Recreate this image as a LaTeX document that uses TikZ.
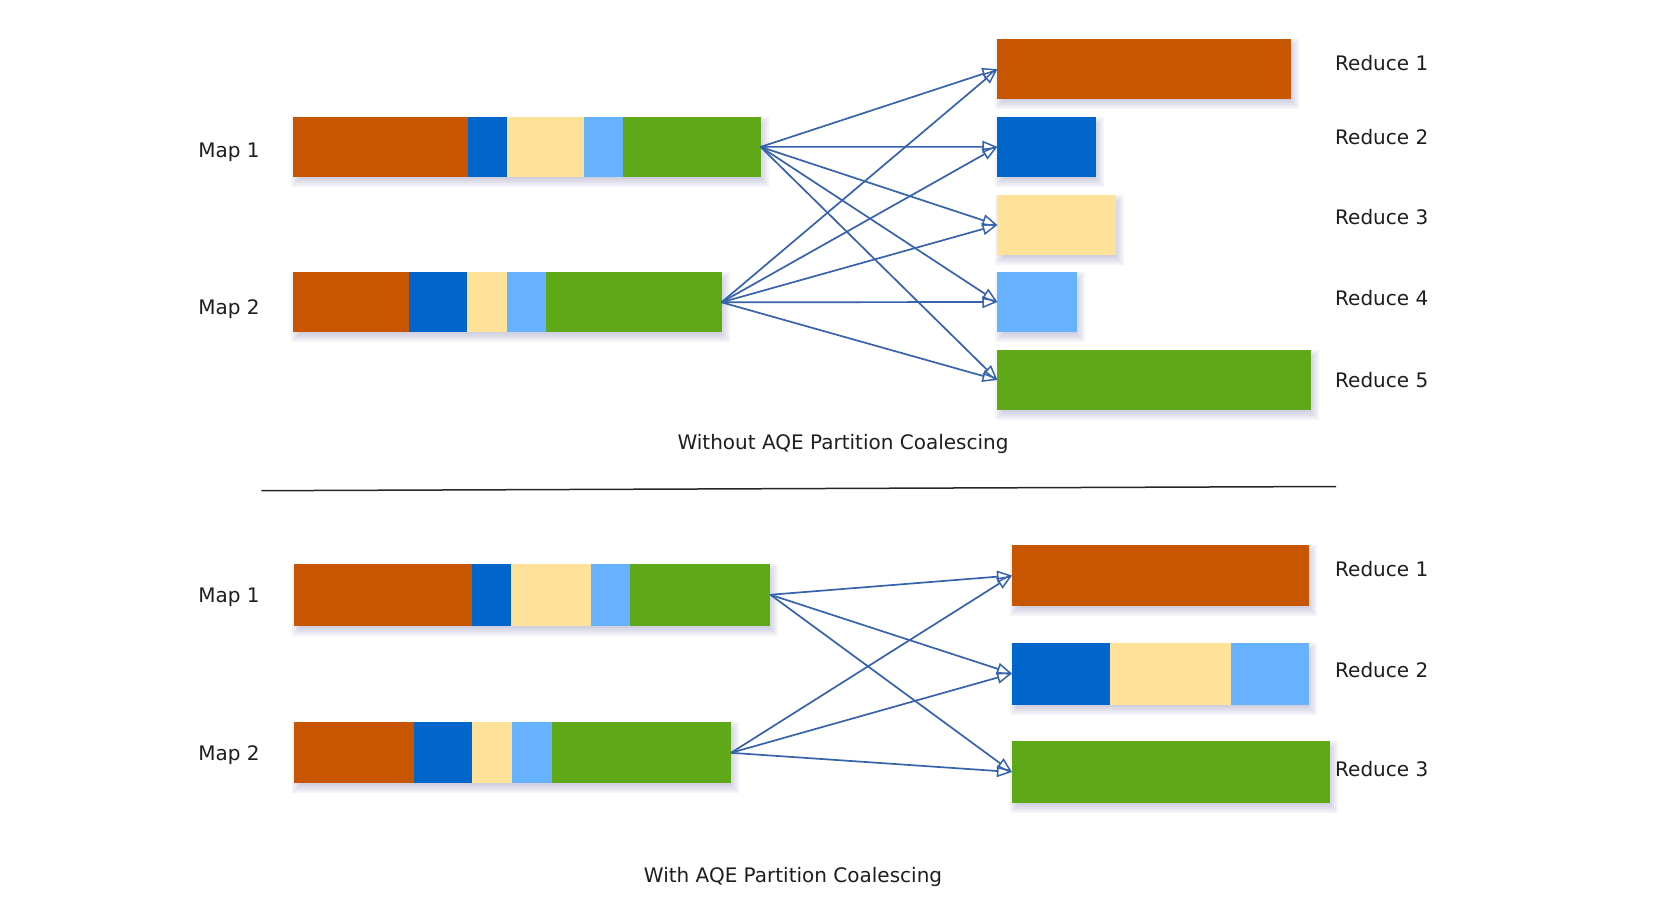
\documentclass[tikz,border=0pt]{standalone}
\usepackage{fontspec}
\setmainfont{DejaVu Sans}
\usetikzlibrary{arrows.meta,calc}
\definecolor{cOr}{RGB}{200,86,0}
\definecolor{cBl}{RGB}{0,102,204}
\definecolor{cYe}{RGB}{255,226,153}
\definecolor{cLb}{RGB}{102,178,255}
\definecolor{cGr}{RGB}{95,168,23}
\definecolor{cArr}{RGB}{55,98,172}
\definecolor{cTxt}{RGB}{30,30,30}
\definecolor{cSh}{RGB}{110,110,165}
\pgfdeclarelayer{bgl}
\pgfsetlayers{bgl,main}
\tikzset{
  blk/.style={rectangle, inner sep=0pt, outer sep=0pt, anchor=north west},
  lbl/.style={text=cTxt, font=\fontsize{20}{24}\selectfont, inner sep=0pt},
  dlbl/.style={lbl, yshift=-2.5pt},
  arr/.style={draw=cArr, line width=1.7pt, -{Triangle[open, length=15pt, width=12pt, line width=1.5pt]}},
  shd/.style={fill=cSh, opacity=0.07, draw=none},
}
\newcommand{\seg}[5]{\fill[#1] (#2,#3) rectangle (#4,#5);}
\newcommand{\shad}[1]{\begin{pgfonlayer}{bgl}\foreach \k in {0,...,5}{\fill[shd] ($(#1.north west)+(3-5+2*\k,5-5+2*\k)$) rectangle ($(#1.south east)+(3+5-2*\k,5+5-2*\k)$);}\end{pgfonlayer}}
\begin{document}
\begin{tikzpicture}[x=1pt,y=-1pt]
\begin{pgfonlayer}{bgl}
\fill[white] (0,0) rectangle (1680,923);
\end{pgfonlayer}
\useasboundingbox (0,0) rectangle (1680,923);

% ---------- top section ----------
\node[dlbl] (tm1l) at (229,150) {Map 1};
\node[dlbl] (tm2l) at (229,306.5) {Map 2};

\node[blk, fill=cOr, minimum width=467.6pt, minimum height=59.8pt] (tm1) at (293,117) {};
\shad{tm1}
\seg{cBl}{467.5}{117}{506.5}{176.8}
\seg{cYe}{506.5}{117}{584.3}{176.8}
\seg{cLb}{584.3}{117}{623}{176.8}
\seg{cGr}{623}{117}{760.6}{176.8}

\node[blk, fill=cOr, minimum width=428.5pt, minimum height=60pt] (tm2) at (293,272.3) {};
\shad{tm2}
\seg{cBl}{409}{272.3}{467}{332.3}
\seg{cYe}{467}{272.3}{506.6}{332.3}
\seg{cLb}{506.6}{272.3}{545.5}{332.3}
\seg{cGr}{545.5}{272.3}{721.5}{332.3}

\node[blk, fill=cOr, minimum width=293.4pt, minimum height=59.7pt] (tr1) at (997.4,39.3) {};
\node[blk, fill=cBl, minimum width=99pt, minimum height=59.7pt] (tr2) at (997.4,117) {};
\node[blk, fill=cYe, minimum width=118.4pt, minimum height=60pt] (tr3) at (997.4,195) {};
\node[blk, fill=cLb, minimum width=79.1pt, minimum height=59.4pt] (tr4) at (997.4,272.3) {};
\node[blk, fill=cGr, minimum width=313.3pt, minimum height=60pt] (tr5) at (997.4,350) {};
\shad{tr1}\shad{tr2}\shad{tr3}\shad{tr4}\shad{tr5}

\node[lbl, anchor=west] (tr1l) at (1335,63.3) {Reduce 1};
\node[lbl, anchor=west] (tr2l) at (1335,136.7) {Reduce 2};
\node[lbl, anchor=west] (tr3l) at (1335,217.3) {Reduce 3};
\node[lbl, anchor=west] (tr4l) at (1335,298.3) {Reduce 4};
\node[lbl, anchor=west] (tr5l) at (1335,380) {Reduce 5};

\foreach \s in {tm1,tm2}{
  \foreach \t in {tr1,tr2,tr3,tr4,tr5}{
    \draw[arr] (\s.east) -- (\t.west);
  }
}

\node[dlbl] (tcap) at (843,441.4) {Without AQE Partition Coalescing};

% ---------- separator ----------
\coordinate (sepA) at (261.3,490.7);
\coordinate (sepB) at (1336,486.5);
\draw[line width=1.5pt, draw=black!85] (sepA) -- (sepB);

% ---------- bottom section ----------
\node[dlbl] (bm1l) at (229,594.6) {Map 1};
\node[dlbl] (bm2l) at (229,752.3) {Map 2};

\node[blk, fill=cOr, minimum width=476.9pt, minimum height=62.5pt] (bm1) at (293.5,563.5) {};
\shad{bm1}
\seg{cBl}{471.7}{563.5}{511}{626}
\seg{cYe}{511}{563.5}{591}{626}
\seg{cLb}{591}{563.5}{630}{626}
\seg{cGr}{630}{563.5}{770.4}{626}

\node[blk, fill=cOr, minimum width=437.5pt, minimum height=61pt] (bm2) at (293.5,722.3) {};
\shad{bm2}
\seg{cBl}{413.5}{722.3}{471.7}{783.3}
\seg{cYe}{471.7}{722.3}{512}{783.3}
\seg{cLb}{512}{722.3}{551.5}{783.3}
\seg{cGr}{551.5}{722.3}{731}{783.3}

\node[blk, fill=cOr, minimum width=297.2pt, minimum height=61pt] (br1) at (1012,545) {};
\node[blk, fill=cBl, minimum width=297.2pt, minimum height=62pt] (br2) at (1012,642.5) {};
\seg{cYe}{1110}{642.5}{1230.5}{704.5}
\seg{cLb}{1230.5}{642.5}{1309.2}{704.5}
\node[blk, fill=cGr, minimum width=318pt, minimum height=62pt] (br3) at (1012,741) {};
\shad{br1}\shad{br2}\shad{br3}

\node[lbl, anchor=west] (br1l) at (1335,569) {Reduce 1};
\node[lbl, anchor=west] (br2l) at (1335,669.6) {Reduce 2};
\node[lbl, anchor=west] (br3l) at (1335,769.3) {Reduce 3};

\foreach \s in {bm1,bm2}{
  \foreach \t in {br1,br2,br3}{
    \draw[arr] (\s.east) -- (\t.west);
  }
}

\node[dlbl] (bcap) at (793,874.3) {With AQE Partition Coalescing};
\end{tikzpicture}
\end{document}
